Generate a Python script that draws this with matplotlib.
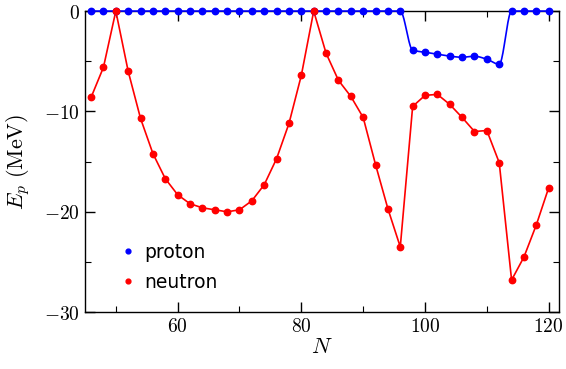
import numpy as np
import matplotlib
matplotlib.use("Agg")
import matplotlib.pyplot as plt
from matplotlib.ticker import MultipleLocator, FuncFormatter

plt.rcParams['mathtext.fontset'] = 'cm'
plt.rcParams['font.family'] = ['DejaVu Sans']

N = list(range(46, 121, 2))
proton = [0]*26 + [-3.9, -4.1, -4.3, -4.5, -4.6, -4.5, -4.8, -5.3] + [0, 0, 0, 0]
neutron = [-8.6, -5.6, 0.0, -6.0, -10.7, -14.2, -16.7, -18.3, -19.2, -19.6,
           -19.8, -20.0, -19.8, -18.9, -17.3, -14.7, -11.2, -6.4, 0.0, -4.2,
           -6.9, -8.5, -10.6, -15.3, -19.7, -23.5, -9.5, -8.4, -8.3, -9.3,
           -10.6, -12.0, -11.9, -15.1, -26.8, -24.5, -21.3, -17.6]


def pchip_curve(x, y, n=20):
    x = np.asarray(x, float); y = np.asarray(y, float)
    h = np.diff(x); d = np.diff(y) / h
    m = np.zeros_like(y)
    for k in range(1, len(x) - 1):
        if d[k-1] * d[k] > 0:
            w1 = 2*h[k] + h[k-1]; w2 = h[k] + 2*h[k-1]
            m[k] = (w1 + w2) / (w1/d[k-1] + w2/d[k])
    m[0] = d[0]
    m[-1] = d[-1]
    xs, ys = [], []
    for k in range(len(x) - 1):
        t = np.linspace(0, 1, n, endpoint=(k == len(x) - 2))
        h00 = 2*t**3 - 3*t**2 + 1; h10 = t**3 - 2*t**2 + t
        h01 = -2*t**3 + 3*t**2; h11 = t**3 - t**2
        xs.append(x[k] + t*h[k])
        ys.append(h00*y[k] + h10*h[k]*m[k] + h01*y[k+1] + h11*h[k]*m[k+1])
    return np.concatenate(xs), np.concatenate(ys)


fig = plt.figure(figsize=(5.66, 3.69), dpi=100)
ax = fig.add_axes([0.150, 0.154, 0.838, 0.816])

blue = '#0000ff'; red = '#ff0000'
px, py = pchip_curve(N, proton)
ax.plot(px, py, color=blue, lw=1.2, clip_on=False, zorder=3)
ax.plot(N, proton, 'o', color=blue, ms=4.6, clip_on=False, zorder=4, label='proton')
ax.plot(N, neutron, '-', color=red, lw=1.2, clip_on=False, zorder=3)
ax.plot(N, neutron, 'o', color=red, ms=4.6, clip_on=False, zorder=4, label='neutron')

ax.set_xlim(45, 121.7)
ax.set_ylim(-30, 0)
ax.xaxis.set_major_locator(MultipleLocator(20))
ax.xaxis.set_minor_locator(MultipleLocator(10))
ax.yaxis.set_major_locator(MultipleLocator(10))
ax.yaxis.set_minor_locator(MultipleLocator(5))
fmt = FuncFormatter(lambda v, p: r'$%d$' % round(v))
ax.xaxis.set_major_formatter(fmt)
ax.yaxis.set_major_formatter(fmt)
ax.tick_params(which='both', direction='in', top=True, right=True, labelsize=14)
ax.tick_params(which='major', length=7, width=1)
ax.tick_params(which='minor', length=4, width=0.8)
for s in ax.spines.values():
    s.set_linewidth(1.0)

ax.set_xlabel(r'$N$', fontsize=16, labelpad=1)
ax.set_ylabel(r'$E_p\ \mathrm{(MeV)}$', fontsize=16, labelpad=9)

ax.legend(loc='lower left', bbox_to_anchor=(0.06, 0.043), frameon=False,
          fontsize=13.5, handlelength=0.8, handletextpad=0.45, labelspacing=0.58,
          markerscale=0.75, borderaxespad=0)

fig.savefig('out.png', dpi=100)
